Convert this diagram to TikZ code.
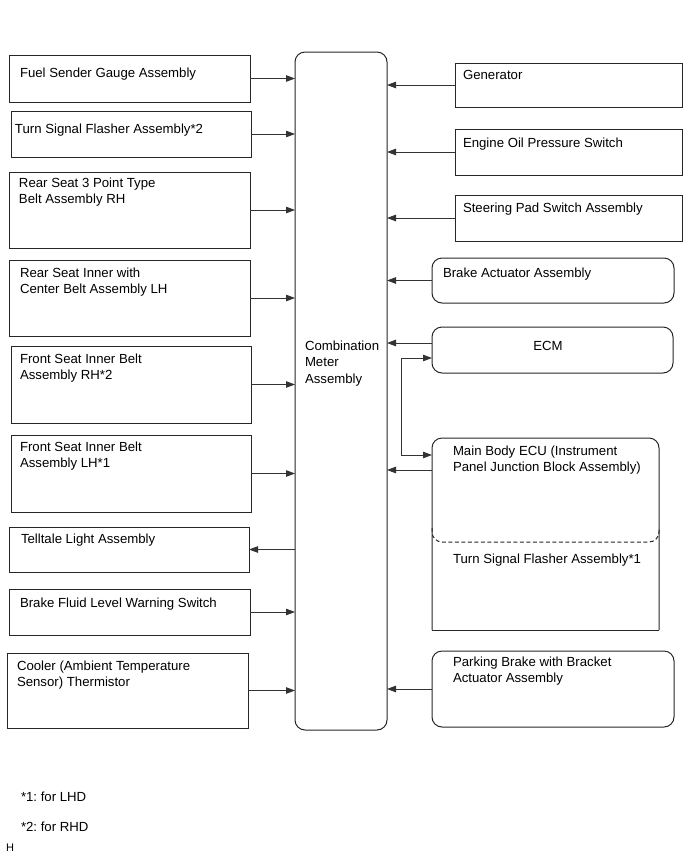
\documentclass[tikz,border=0pt]{standalone}
\usepackage{fontspec}
\setmainfont{Liberation Sans}
\usetikzlibrary{arrows.meta,calc}
\newcommand{\mlines}[1]{\begin{tabular}[t]{@{}l@{}}#1\end{tabular}}
\frenchspacing
\begin{document}
\begin{tikzpicture}[x=1pt,y=-1pt,
  every node/.style={inner sep=0pt, outer sep=0pt},
  bline/.style={draw=black!85, line width=1pt},
  box/.style={bline, anchor=north west},
  rbox/.style={box, rounded corners=10pt},
  txt/.style={anchor=base west, font=\fontsize{13.2}{16.5}\selectfont},
  arr/.style={draw=black!80, line width=0.8pt, -{Triangle[length=9pt,width=6.5pt]}},
  dbl/.style={draw=black!80, line width=0.8pt, {Triangle[length=9pt,width=6.5pt]}-{Triangle[length=9pt,width=6.5pt]}}
]
\useasboundingbox (0,0) rectangle (691,855);

% centre
\node[rbox, minimum width=92, minimum height=678] (meter) at (295,52) {};
\node[txt] (meterT) at (305,350) {\mlines{Combination\\Meter\\Assembly}};

% left column
\node[box, minimum width=241, minimum height=47] (fuel) at (9,55) {};
\node[txt] (fuelT) at (20,77) {Fuel Sender Gauge Assembly};
\node[box, minimum width=240, minimum height=46] (turn) at (11,111) {};
\node[txt] (turnT) at (15,133) {Turn Signal Flasher Assembly*2};
\node[box, minimum width=241, minimum height=76] (rear3) at (9,172) {};
\node[txt] (rear3T) at (19,187) {\mlines{Rear Seat 3 Point Type\\Belt Assembly RH}};
\node[box, minimum width=241, minimum height=76] (rearin) at (9,260) {};
\node[txt] (rearinT) at (20,277) {\mlines{Rear Seat Inner with\\Center Belt Assembly LH}};
\node[box, minimum width=240, minimum height=77] (frontrh) at (11,346) {};
\node[txt] (frontrhT) at (20,363) {\mlines{Front Seat Inner Belt\\Assembly RH*2}};
\node[box, minimum width=240, minimum height=77] (frontlh) at (11,435) {};
\node[txt] (frontlhT) at (20,451) {\mlines{Front Seat Inner Belt\\Assembly LH*1}};
\node[box, minimum width=240, minimum height=45] (tell) at (9,527) {};
\node[txt] (tellT) at (21,543) {Telltale Light Assembly};
\node[box, minimum width=241, minimum height=46] (fluid) at (9,589) {};
\node[txt] (fluidT) at (20,607) {Brake Fluid Level Warning Switch};
\node[box, minimum width=241, minimum height=75] (cooler) at (7,653) {};
\node[txt] (coolerT) at (17,670) {\mlines{Cooler (Ambient Temperature\\Sensor) Thermistor}};

% right column
\node[box, minimum width=227, minimum height=44] (gen) at (455,63) {};
\node[txt] (genT) at (463,79) {Generator};
\node[box, minimum width=227, minimum height=46] (oil) at (455,129) {};
\node[txt] (oilT) at (463,147) {Engine Oil Pressure Switch};
\node[box, minimum width=227, minimum height=46] (steer) at (455,195) {};
\node[txt] (steerT) at (463,212) {Steering Pad Switch Assembly};
\node[rbox, minimum width=242, minimum height=45] (bact) at (432,258) {};
\node[txt] (bactT) at (443,277) {Brake Actuator Assembly};
\node[rbox, minimum width=241, minimum height=46] (ecm) at (432,327) {};
\node[txt, anchor=base] (ecmT) at (548,350) {ECM};
\node[anchor=north west, minimum width=227, minimum height=192] (mb) at (432,438) {};
\draw[bline, rounded corners=10pt] (mb.south west) -- (mb.north west) -- (mb.north east) -- (mb.south east);
\draw[bline] (mb.south west) -- (mb.south east);
\draw[bline, dash pattern=on 4pt off 2.5pt, rounded corners=10pt]
  ($(mb.north west)+(0,90)$) -- ($(mb.north west)+(0,104)$) -- ($(mb.north east)+(0,104)$) -- ($(mb.north east)+(0,90)$);
\node[txt] (mbT) at (453,455) {\mlines{Main Body ECU (Instrument\\Panel Junction Block Assembly)}};
\node[txt] (tsfT) at (453,563) {Turn Signal Flasher Assembly*1};
\node[rbox, minimum width=242, minimum height=76] (park) at (432,651) {};
\node[txt] (parkT) at (453,666) {\mlines{Parking Brake with Bracket\\Actuator Assembly}};

% connectors left
\foreach \b in {fuel,turn,rear3,rearin,frontrh,frontlh,fluid,cooler}
  \draw[arr] (\b.east) -- (\b.east -| meter.west);
\draw[arr] (tell.east -| meter.west) -- (tell.east);

% connectors right
\foreach \b in {gen,oil,steer,bact,park}
  \draw[arr] (\b.west) -- (\b.west -| meter.east);
\draw[arr] (ecm.west |- 0,343) -- (meter.east |- 0,343);
\draw[arr] (mb.west |- 0,470) -- (meter.east |- 0,470);
\draw[dbl] (ecm.west |- 0,358) -- (401,358) -- (401,455) -- (mb.west |- 0,455);

% notes
\node[txt] (n1) at (21,801) {*1: for LHD};
\node[txt] (n2) at (21,831) {*2: for RHD};
\node[anchor=base west, font=\fontsize{11}{13}\selectfont] (hh) at (6,851) {H};
\end{tikzpicture}
\end{document}
